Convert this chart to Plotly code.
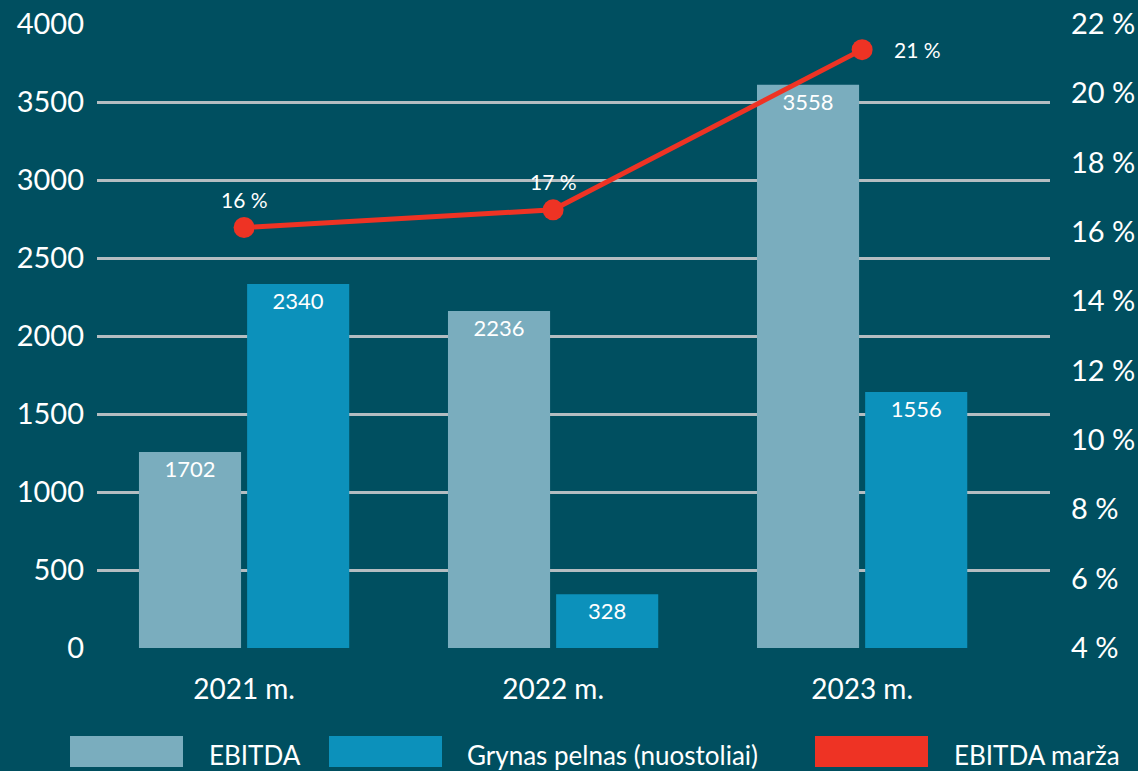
import plotly.graph_objects as go

# ---- data ----
categories = ["2021 m.", "2022 m.", "2023 m."]
ebitda_heights = [1256, 2160, 3610]          # bar heights as drawn
ebitda_labels = ["1702", "2236", "3558"]      # printed labels
net_heights = [2334, 345, 1641]
net_labels = ["2340", "328", "1556"]
margin_values = [16.13, 16.64, 21.26]         # EBITDA marža, %
margin_labels = ["16 %", "17 %", "21 %"]
legend_names = ["EBITDA", "Grynas pelnas (nuostoliai)", "EBITDA marža"]

# ---- style ----
BG = "#004f60"
C_EBITDA = "#7aadbe"
C_NET = "#0c91bb"
C_RED = "#ee3324"
GRID = "#b4bdc1"
FONT = "Lato, 'Open Sans', sans-serif"

W, H = 1138, 771
L, R, T, B = 97, 88, 24, 123
PW, PH = W - L - R, H - T - B

fig = go.Figure()
fig.add_trace(go.Bar(
    x=categories, y=ebitda_heights, name=legend_names[0],
    marker=dict(color=C_EBITDA, line=dict(width=0)),
    text=ebitda_labels, textposition="inside", insidetextanchor="end",
    textangle=0, insidetextfont=dict(color="white", size=22, family=FONT),
    hoverinfo="skip",
))
fig.add_trace(go.Bar(
    x=categories, y=net_heights, name=legend_names[1],
    marker=dict(color=C_NET, line=dict(width=0)),
    text=net_labels, textposition="inside", insidetextanchor="end",
    textangle=0, insidetextfont=dict(color="white", size=22, family=FONT),
    hoverinfo="skip",
))
fig.add_trace(go.Scatter(
    x=categories, y=margin_values, name=legend_names[2], yaxis="y2",
    mode="lines+markers",
    line=dict(color=C_RED, width=5),
    marker=dict(color=C_RED, size=21),
    hoverinfo="skip",
))

# line value labels placed at the data points through the axes
label_pos = [("center", 0, 28), ("center", 0, 28), ("left", 30, 0)]
for cat, val, lab, (anc, xs, ys) in zip(categories, margin_values, margin_labels, label_pos):
    fig.add_annotation(x=cat, y=val, xref="x", yref="y2", text=lab,
                       showarrow=False, xanchor=anc, yanchor="middle",
                       xshift=xs, yshift=ys,
                       font=dict(size=21, color="white", family=FONT))

fig.update_layout(
    width=W, height=H,
    margin=dict(l=L, r=R, t=T, b=B, pad=0, autoexpand=False),
    paper_bgcolor=BG, plot_bgcolor=BG,
    barmode="group", bargap=0.30, bargroupgap=0.056,
    showlegend=False,
    font=dict(family=FONT, color="white"),
    xaxis=dict(type="category", range=[-0.476, 2.608], showgrid=False,
               zeroline=False, showline=False, ticks="", automargin=False,
               tickfont=dict(size=28, color="white"), ticklabelstandoff=22),
    yaxis=dict(range=[0, 4000], dtick=500, showgrid=True, gridcolor=GRID,
               gridwidth=2.5, zeroline=False, showline=False, ticks="",
               automargin=False,
               tickfont=dict(size=29, color="white"), ticklabelstandoff=12),
    yaxis2=dict(range=[4, 22], dtick=2, overlaying="y", side="right",
                showgrid=False, zeroline=False, showline=False, ticks="",
                automargin=False, ticksuffix=" %",
                tickfont=dict(size=29, color="white"), ticklabelstandoff=20),
)

# ---- custom legend (wide swatches) ----
def px_x(px):
    return (px - L) / PW

def px_y(py):
    return (H - B - py) / PH

swatches = [(70, 183), (329, 442), (815, 928)]
text_left = [207, 465, 952]
colors = [C_EBITDA, C_NET, C_RED]
for (x0, x1), tx, col, name in zip(swatches, text_left, colors, legend_names):
    fig.add_shape(type="rect", xref="paper", yref="paper",
                  x0=px_x(x0), x1=px_x(x1), y0=px_y(767), y1=px_y(736),
                  fillcolor=col, line=dict(width=0), layer="above")
    fig.add_annotation(xref="paper", yref="paper", x=px_x(tx), y=px_y(755),
                       xanchor="left", yanchor="middle", showarrow=False,
                       text=name, font=dict(size=26, color="white", family=FONT))

fig.write_html("out.html", config={"displayModeBar": False},
               post_script="document.body.style.margin='0px';document.body.style.overflow='hidden';")
